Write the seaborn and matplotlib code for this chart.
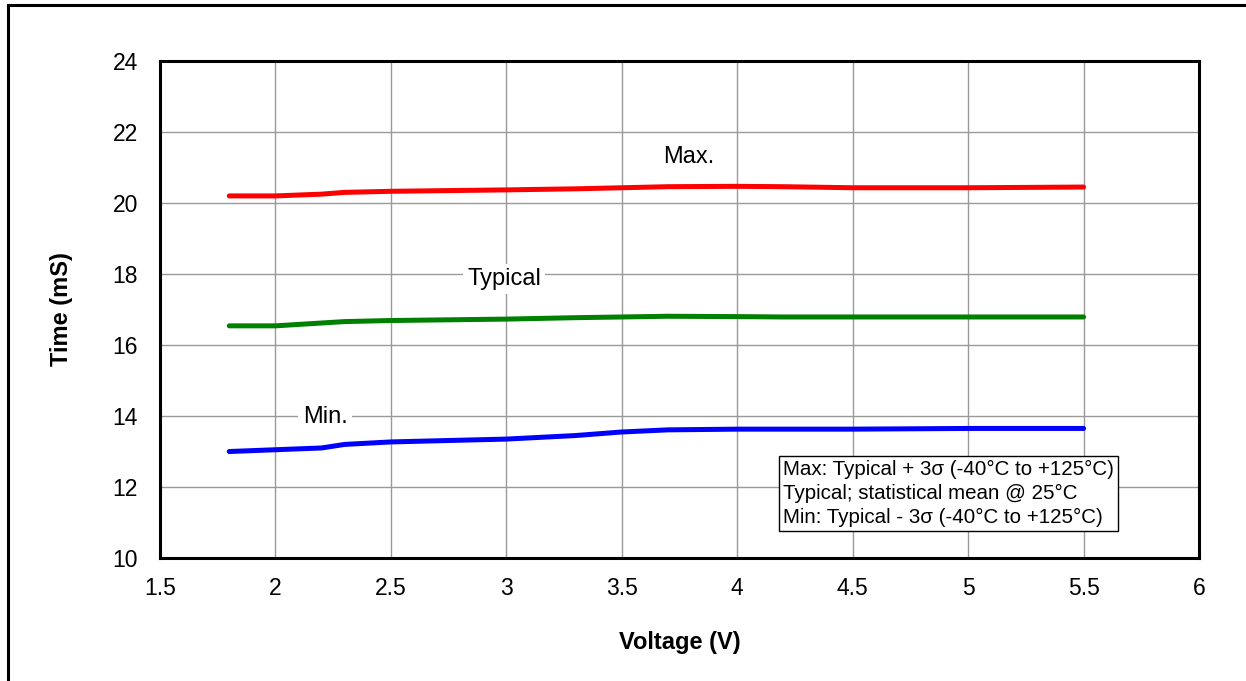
import matplotlib.pyplot as plt
import matplotlib.patches as mpatches
import seaborn as sns
import pandas as pd

# data
voltage = [1.8, 2.0, 2.2, 2.3, 2.5, 3.0, 3.3, 3.5, 3.7, 4.0, 4.2, 4.5, 5.0, 5.5]
t_max = [20.20, 20.20, 20.25, 20.30, 20.33, 20.37, 20.40, 20.43, 20.46, 20.47, 20.46, 20.43, 20.43, 20.45]
t_typ = [16.54, 16.54, 16.62, 16.66, 16.69, 16.73, 16.77, 16.79, 16.81, 16.80, 16.79, 16.79, 16.79, 16.79]
t_min = [13.00, 13.05, 13.10, 13.20, 13.27, 13.35, 13.45, 13.55, 13.61, 13.63, 13.63, 13.63, 13.65, 13.65]

xticks = [1.5, 2, 2.5, 3, 3.5, 4, 4.5, 5, 5.5, 6]
xticklabels = ['1.5', '2', '2.5', '3', '3.5', '4', '4.5', '5', '5.5', '6']
yticks = [10, 12, 14, 16, 18, 20, 22, 24]

df = pd.DataFrame({'voltage': voltage * 3,
                   'time': t_max + t_typ + t_min,
                   'series': ['Max.'] * len(voltage) + ['Typical'] * len(voltage) + ['Min.'] * len(voltage)})

sns.set_style('white')
plt.rcParams['font.family'] = ['Liberation Sans', 'DejaVu Sans']
plt.rcParams.update({'text.color': 'black', 'axes.labelcolor': 'black',
                     'xtick.color': 'black', 'ytick.color': 'black'})

fig = plt.figure(figsize=(12.46, 6.81), dpi=100)
ax = fig.add_axes([0.1284, 0.1806, 0.8339, 0.7298])

sns.lineplot(data=df, x='voltage', y='time', hue='series',
             palette={'Max.': '#ff0000', 'Typical': '#008000', 'Min.': '#0000ff'},
             linewidth=3.6, legend=False, ax=ax, zorder=3)
for l in ax.lines:
    l.set_solid_capstyle('round')

ax.set_xlim(1.5, 6)
ax.set_ylim(10, 24)
ax.set_xticks(xticks)
ax.set_xticklabels(xticklabels)
ax.set_yticks(yticks)
ax.tick_params(axis='both', length=0, labelsize=16.5)
ax.tick_params(axis='y', pad=16)
ax.tick_params(axis='x', pad=14)
ax.grid(True, color='#999999', linewidth=1)
ax.set_axisbelow(True)
for s in ax.spines.values():
    s.set_color('black')
    s.set_linewidth(2.2)

ax.set_xlabel('Voltage (V)', fontsize=17, fontweight='bold', labelpad=22)
ax.set_ylabel('Time (mS)', fontsize=17, fontweight='bold', labelpad=28)

# series labels
ax.text(3.79, 21.3, 'Max.', fontsize=17, ha='center', va='center')
ax.text(2.99, 17.86, 'Typical', fontsize=17, ha='center', va='center',
        bbox=dict(facecolor='white', edgecolor='none', pad=3))
ax.text(2.215, 13.97, 'Min.', fontsize=17, ha='center', va='center',
        bbox=dict(facecolor='white', edgecolor='none', pad=3))

# note box
ax.text(4.198, 11.82, 'Max: Typical + 3σ (-40°C to +125°C)\nTypical; statistical mean @ 25°C\nMin: Typical - 3σ (-40°C to +125°C)',
        fontsize=14.8, ha='left', va='center', linespacing=1.32,
        bbox=dict(facecolor='white', edgecolor='black', linewidth=1, boxstyle='square,pad=0.2'))

# outer frame of the figure
fig.patches.append(mpatches.Rectangle((0.0068, -0.05), 1.1, 1.043, transform=fig.transFigure,
                                      fill=False, edgecolor='black', linewidth=2.2))

fig.savefig('out.png', dpi=100)
